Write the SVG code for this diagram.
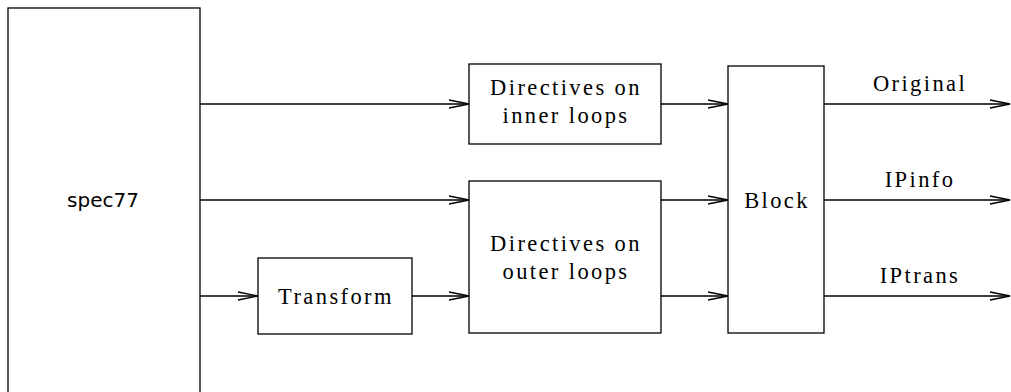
<svg xmlns="http://www.w3.org/2000/svg" width="1011" height="392" viewBox="0 0 1011 392">
<style>
.box{fill:#fff;stroke:#000;stroke-width:1.3}
.t{font-family:"Liberation Serif","DejaVu Serif",serif;font-size:22.5px;letter-spacing:2.4px;text-anchor:middle;fill:#000}
.s{font-family:"DejaVu Sans","Liberation Sans",sans-serif;font-size:20px;text-anchor:middle;fill:#000}
.c{stroke:#000;stroke-width:1.3;fill:none;marker-end:url(#a)}
</style>
<defs>
<marker id="a" markerUnits="userSpaceOnUse" markerWidth="22" markerHeight="10" refX="20" refY="4" orient="auto" overflow="visible">
<path d="M0,0 L20,4 L0,8" fill="none" stroke="#000" stroke-width="1.3"/>
</marker>
</defs>
<rect width="1011" height="392" fill="#fff"/>
<g id="spec77"><rect class="box" x="8" y="8" width="192" height="390"/><text class="s" x="103" y="207">spec77</text></g>
<g id="inner"><rect class="box" x="469" y="64" width="192" height="80"/><text class="t" x="566" y="95">Directives on</text><text class="t" x="566" y="123">inner loops</text></g>
<g id="outer"><rect class="box" x="469" y="181" width="192" height="152"/><text class="t" x="566" y="251">Directives on</text><text class="t" x="566" y="279">outer loops</text></g>
<g id="transform"><rect class="box" x="258" y="258" width="154" height="76"/><text class="t" x="336" y="304">Transform</text></g>
<g id="block"><rect class="box" x="728" y="66" width="96" height="267"/><text class="t" x="777" y="208">Block</text></g>
<g id="labels"><text class="t" x="920" y="91">Original</text><text class="t" x="920" y="187">IPinfo</text><text class="t" x="920" y="283">IPtrans</text></g>
<g id="connectors">
<path class="c" d="M200,104 H469"/>
<path class="c" d="M200,200 H469"/>
<path class="c" d="M200,296 H258"/>
<path class="c" d="M412,296 H469"/>
<path class="c" d="M661,104 H728"/>
<path class="c" d="M661,200 H728"/>
<path class="c" d="M661,296 H728"/>
<path class="c" d="M824,104 H1010"/>
<path class="c" d="M824,200 H1010"/>
<path class="c" d="M824,296 H1010"/>
</g>
</svg>
